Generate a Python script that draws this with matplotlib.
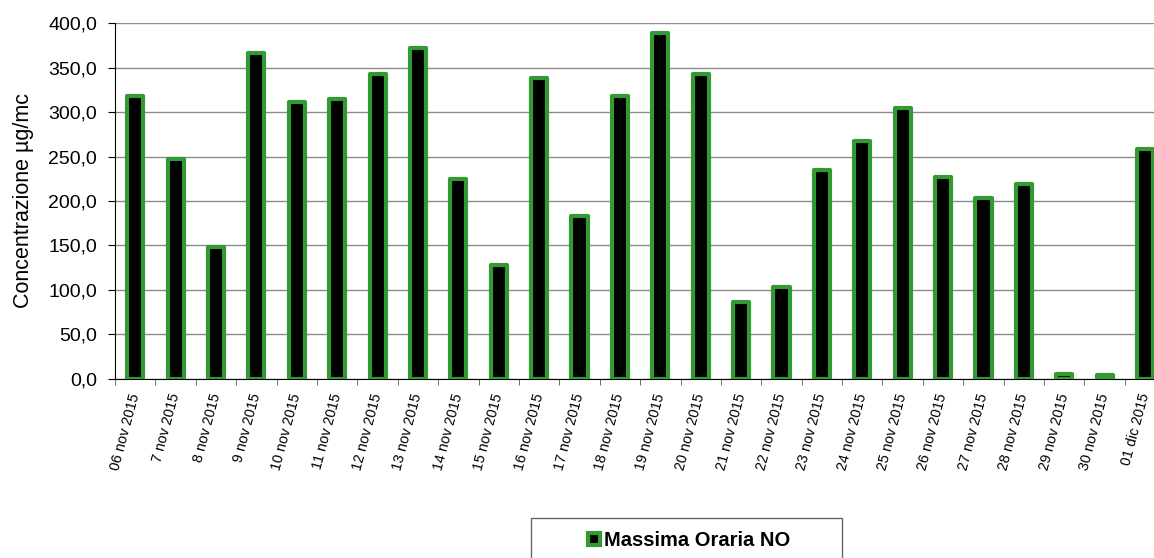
import matplotlib.pyplot as plt
from matplotlib.patches import Rectangle
from matplotlib.ticker import FuncFormatter, FixedLocator

plt.rcParams['font.family'] = ['Liberation Sans', 'DejaVu Sans']

dates = ["06 nov 2015", "7 nov 2015", "8 nov 2015", "9 nov 2015", "10 nov 2015",
         "11 nov 2015", "12 nov 2015", "13 nov 2015", "14 nov 2015", "15 nov 2015",
         "16 nov 2015", "17 nov 2015", "18 nov 2015", "19 nov 2015", "20 nov 2015",
         "21 nov 2015", "22 nov 2015", "23 nov 2015", "24 nov 2015", "25 nov 2015",
         "26 nov 2015", "27 nov 2015", "28 nov 2015", "29 nov 2015", "30 nov 2015",
         "01 dic 2015"]
no_max = [318, 247, 148, 367, 311, 315, 343, 372, 225, 128,
          338, 183, 318, 389, 343, 86, 103, 235, 267, 305,
          227, 203, 219, 5, 4, 259]
series_name = "Massima Oraria NO"

green = '#339a33'

fig = plt.figure(figsize=(11.54, 5.58), dpi=100)
ax = fig.add_axes([0.0997, 0.3215, 0.91, 0.6367])

x = range(len(dates))
ax.bar(x, no_max, width=0.4, color='black', edgecolor=green, linewidth=3,
       joinstyle='round', label=series_name, zorder=3)

ax.set_xlim(-0.5, len(dates) - 0.5)
ax.set_ylim(0, 400)
ax.set_yticks(range(0, 401, 50))
ax.yaxis.set_major_formatter(FuncFormatter(lambda v, _: f"{v:.1f}".replace('.', ',')))
ax.grid(axis='y', color='#8c8c8c', linewidth=1, zorder=0)

ax.set_xticks(list(x))
ax.set_xticklabels(dates, rotation=75, ha='right', va='center',
                   rotation_mode='anchor', fontsize=10.3)
ax.tick_params(axis='x', which='major', length=0, pad=11)
ax.xaxis.set_minor_locator(FixedLocator([i - 0.5 for i in range(len(dates) + 1)]))
ax.tick_params(axis='x', which='minor', length=4, color='#555555')
ax.tick_params(axis='y', labelsize=14, length=5, pad=8)

for side in ('top', 'right'):
    ax.spines[side].set_visible(False)
ax.spines['left'].set_color('black')
ax.spines['bottom'].set_color('black')

ax.set_ylabel("Concentrazione µg/mc", fontsize=15.5, labelpad=10)

fig.patches.append(Rectangle((531 / 1154, -0.02), 311 / 1154, 0.02 + 40 / 558,
                             transform=fig.transFigure, fill=False,
                             edgecolor='#666666', linewidth=1))
handles, labels = ax.get_legend_handles_labels()
fig.legend(handles, labels, loc='center', bbox_to_anchor=(689 / 1154, 0.031),
           frameon=False, prop={'weight': 'bold', 'size': 14.5},
           handlelength=0.6, handleheight=0.6, handletextpad=0.2)

fig.savefig('out.png', dpi=100)
